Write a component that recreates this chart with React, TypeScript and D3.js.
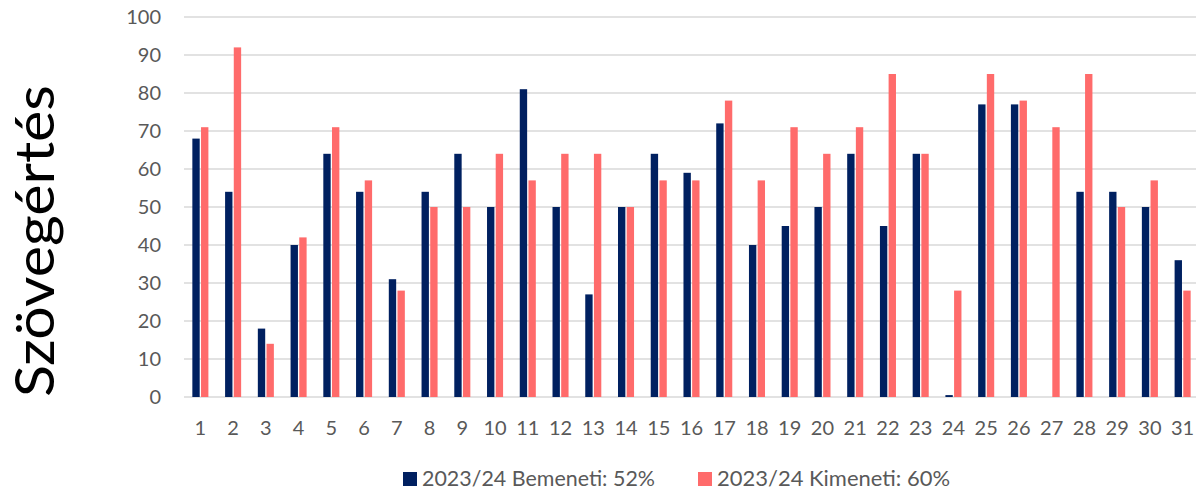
import { useEffect, useRef } from 'react';
import * as d3 from 'd3';

const categories = d3.range(1, 32).map(String);
const inputValues = [68, 54, 18, 40, 64, 54, 31, 54, 64, 50, 81, 50, 27, 50, 64, 59, 72, 40, 45, 50, 64, 45, 64, 0.5, 77, 77, 0, 54, 54, 50, 36];
const outputValues = [71, 92, 14, 42, 71, 57, 28, 50, 50, 64, 57, 64, 64, 50, 57, 57, 78, 57, 71, 64, 71, 85, 64, 28, 85, 78, 71, 85, 50, 57, 28];
const yTicks = [0, 10, 20, 30, 40, 50, 60, 70, 80, 90, 100];
const seriesNames = ['2023/24 Bemeneti: 52%', '2023/24 Kimeneti: 60%'];
const colors = ['#002060', '#FF6B6B'];

const WIDTH = 1196;
const HEIGHT = 491;

const App = () => {
    const svgRef = useRef<SVGSVGElement>(null);

    useEffect(() => {
        const svg = d3.select(svgRef.current);
        svg.selectAll('*').remove();

        const margin = { top: 17, right: -3, bottom: 94, left: 184 };
        const font = 'Lato, "Noto Sans", sans-serif';

        const x = d3.scaleBand().domain(categories).range([margin.left, WIDTH - margin.right]).padding(0);
        const y = d3.scaleLinear().domain([0, 100]).range([HEIGHT - margin.bottom, margin.top]);

        const step = x.bandwidth();
        const barW = step * 0.225;
        const gap = step * 0.04;

        // gridlines
        svg.append('g')
            .selectAll('line')
            .data(yTicks)
            .join('line')
            .attr('x1', margin.left)
            .attr('x2', WIDTH)
            .attr('y1', (d) => y(d))
            .attr('y2', (d) => y(d))
            .attr('stroke', '#d9d9d9')
            .attr('stroke-width', 1.3);

        // y labels
        svg.append('g')
            .selectAll('text')
            .data(yTicks)
            .join('text')
            .attr('x', 161)
            .attr('y', (d) => y(d))
            .attr('dy', '0.35em')
            .attr('text-anchor', 'end')
            .attr('font-family', font)
            .attr('font-size', 20)
            .attr('fill', '#595959')
            .text((d) => d);

        // bars
        const series = [inputValues, outputValues];
        series.forEach((vals, si) => {
            svg.append('g')
                .selectAll('rect')
                .data(vals)
                .join('rect')
                .attr('x', (d, i) => {
                    const c = (x(categories[i]) as number) + step / 2;
                    return si === 0 ? c - gap / 2 - barW : c + gap / 2;
                })
                .attr('y', (d) => y(d))
                .attr('width', barW)
                .attr('height', (d) => y(0) - y(d))
                .attr('fill', colors[si]);
        });

        // x labels
        svg.append('g')
            .selectAll('text')
            .data(categories)
            .join('text')
            .attr('x', (d) => (x(d) as number) + step / 2)
            .attr('y', 428)
            .attr('dy', '0.35em')
            .attr('text-anchor', 'middle')
            .attr('font-family', font)
            .attr('font-size', 20)
            .attr('fill', '#595959')
            .text((d) => d);

        // legend
        const legendX = [403, 698];
        seriesNames.forEach((name, i) => {
            const g = svg.append('g').attr('transform', `translate(${legendX[i]}, 479)`);
            g.append('rect')
                .attr('x', 0)
                .attr('y', -7)
                .attr('width', 14)
                .attr('height', 14)
                .attr('fill', colors[i]);
            g.append('text')
                .attr('x', 19)
                .attr('y', 0)
                .attr('dy', '0.35em')
                .attr('font-family', font)
                .attr('font-size', 21)
                .attr('textLength', 233)
                .attr('lengthAdjust', 'spacingAndGlyphs')
                .attr('fill', '#595959')
                .text(name);
        });

        // y axis title
        svg.append('text')
            .attr('transform', `translate(54, 241) rotate(-90)`)
            .attr('text-anchor', 'middle')
            .attr('font-family', font)
            .attr('font-size', 55)
            .attr('textLength', 312)
            .attr('lengthAdjust', 'spacingAndGlyphs')
            .attr('fill', '#000')
            .text('Szövegértés');
    }, []);

    return (
        <svg ref={svgRef} width={WIDTH} height={HEIGHT} style={{ position: 'absolute', left: 0, top: 0, background: '#fff' }}></svg>
    );
};

export default App;
